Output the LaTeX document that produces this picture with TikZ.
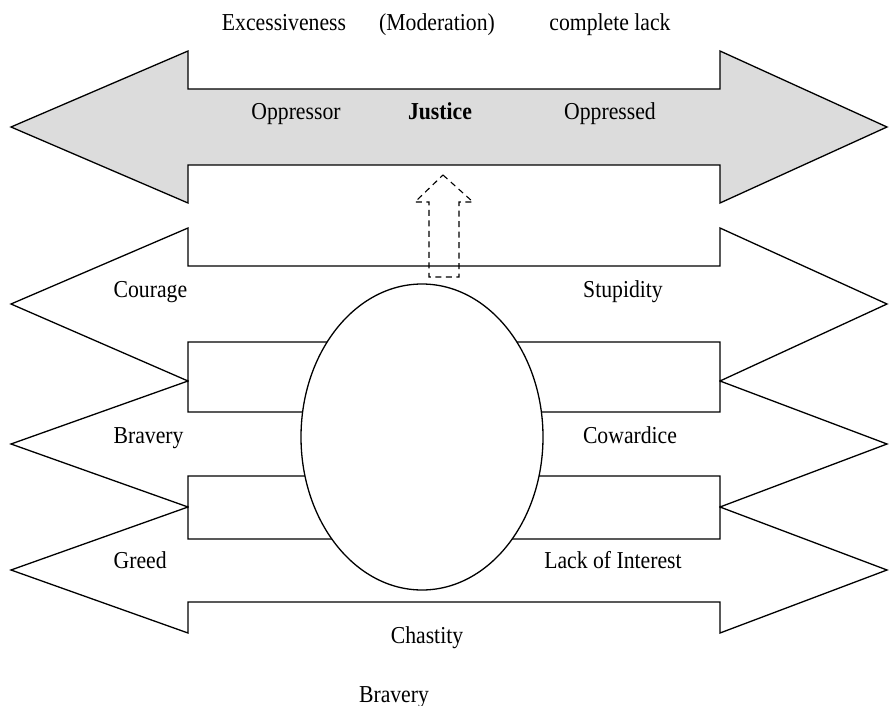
\documentclass[tikz,border=0pt]{standalone}
\usepackage{fontspec}
\setmainfont{Liberation Serif}
\usetikzlibrary{shapes.geometric}
\definecolor{arrgray}{RGB}{220,220,220}
\newcommand\vstretch[1]{\scalebox{1}[1.12]{#1}}
\begin{document}
\begin{tikzpicture}[x=1pt,y=-1pt,line width=1.3pt,line join=miter,
  lbl/.style={inner sep=0pt,anchor=base,font=\fontsize{21.7}{26}\selectfont},
  lblw/.style={lbl,anchor=base west},
  bigarrow/.style={draw=black},
  dasharrow/.style={draw=black,line width=1.1pt,dash pattern=on 6pt off 4.5pt},
  centreoval/.style={draw=black,fill=white,ellipse,inner sep=0pt,minimum width=242pt,minimum height=306pt}]
\useasboundingbox (0,0) rectangle (889,706);
% top gray double arrow
\path[bigarrow,fill=arrgray] (11,127) -- (188,51) -- (188,89) -- (720,89) -- (720,51) -- (887,127)
  -- (720,203) -- (720,165) -- (188,165) -- (188,203) -- cycle;
% second arrow
\path[bigarrow] (11,304) -- (188,228) -- (188,266) -- (720,266) -- (720,228) -- (887,304)
  -- (720,381) -- (720,342) -- (188,342) -- (188,381) -- cycle;
% third arrow
\path[bigarrow] (11,444) -- (188,381) -- (188,412) -- (720,412) -- (720,381) -- (887,444)
  -- (720,507) -- (720,476) -- (188,476) -- (188,507) -- cycle;
% fourth arrow
\path[bigarrow] (11,570) -- (188,507) -- (188,539) -- (720,539) -- (720,507) -- (887,570)
  -- (720,633) -- (720,602) -- (188,602) -- (188,633) -- cycle;
% central oval
\node[centreoval] (oval) at (422,437) {};
% dashed up arrow
\path[dasharrow] (443,175) -- (473,202) -- (459,202) -- (459,277) -- (429,277) -- (429,202) -- (415,202) -- cycle;
% labels
\node[lbl] (exc) at (284,31) {\vstretch{Excessiveness}};
\node[lbl] (mod) at (437,31) {\vstretch{(Moderation)}};
\node[lbl] (lack) at (610,31) {\vstretch{complete lack}};
\node[lbl] (oppor) at (296,120) {\vstretch{Oppressor}};
\node[lbl] (just) at (440,120) {\vstretch{\textbf{Justice}}};
\node[lbl] (opped) at (610,120) {\vstretch{Oppressed}};
\node[lblw] (cour) at (113,297) {\vstretch{Courage}};
\node[lbl] (stup) at (623,297) {\vstretch{Stupidity}};
\node[lblw] (brav) at (113,443) {\vstretch{Bravery}};
\node[lbl] (cow) at (630,443) {\vstretch{Cowardice}};
\node[lblw] (greed) at (113,568) {\vstretch{Greed}};
\node[lbl] (lint) at (613,568) {\vstretch{Lack of Interest}};
\node[lbl] (chas) at (427,643) {\vstretch{Chastity}};
\node[lbl] (brav2) at (394,702) {\vstretch{Bravery}};
\end{tikzpicture}
\end{document}
